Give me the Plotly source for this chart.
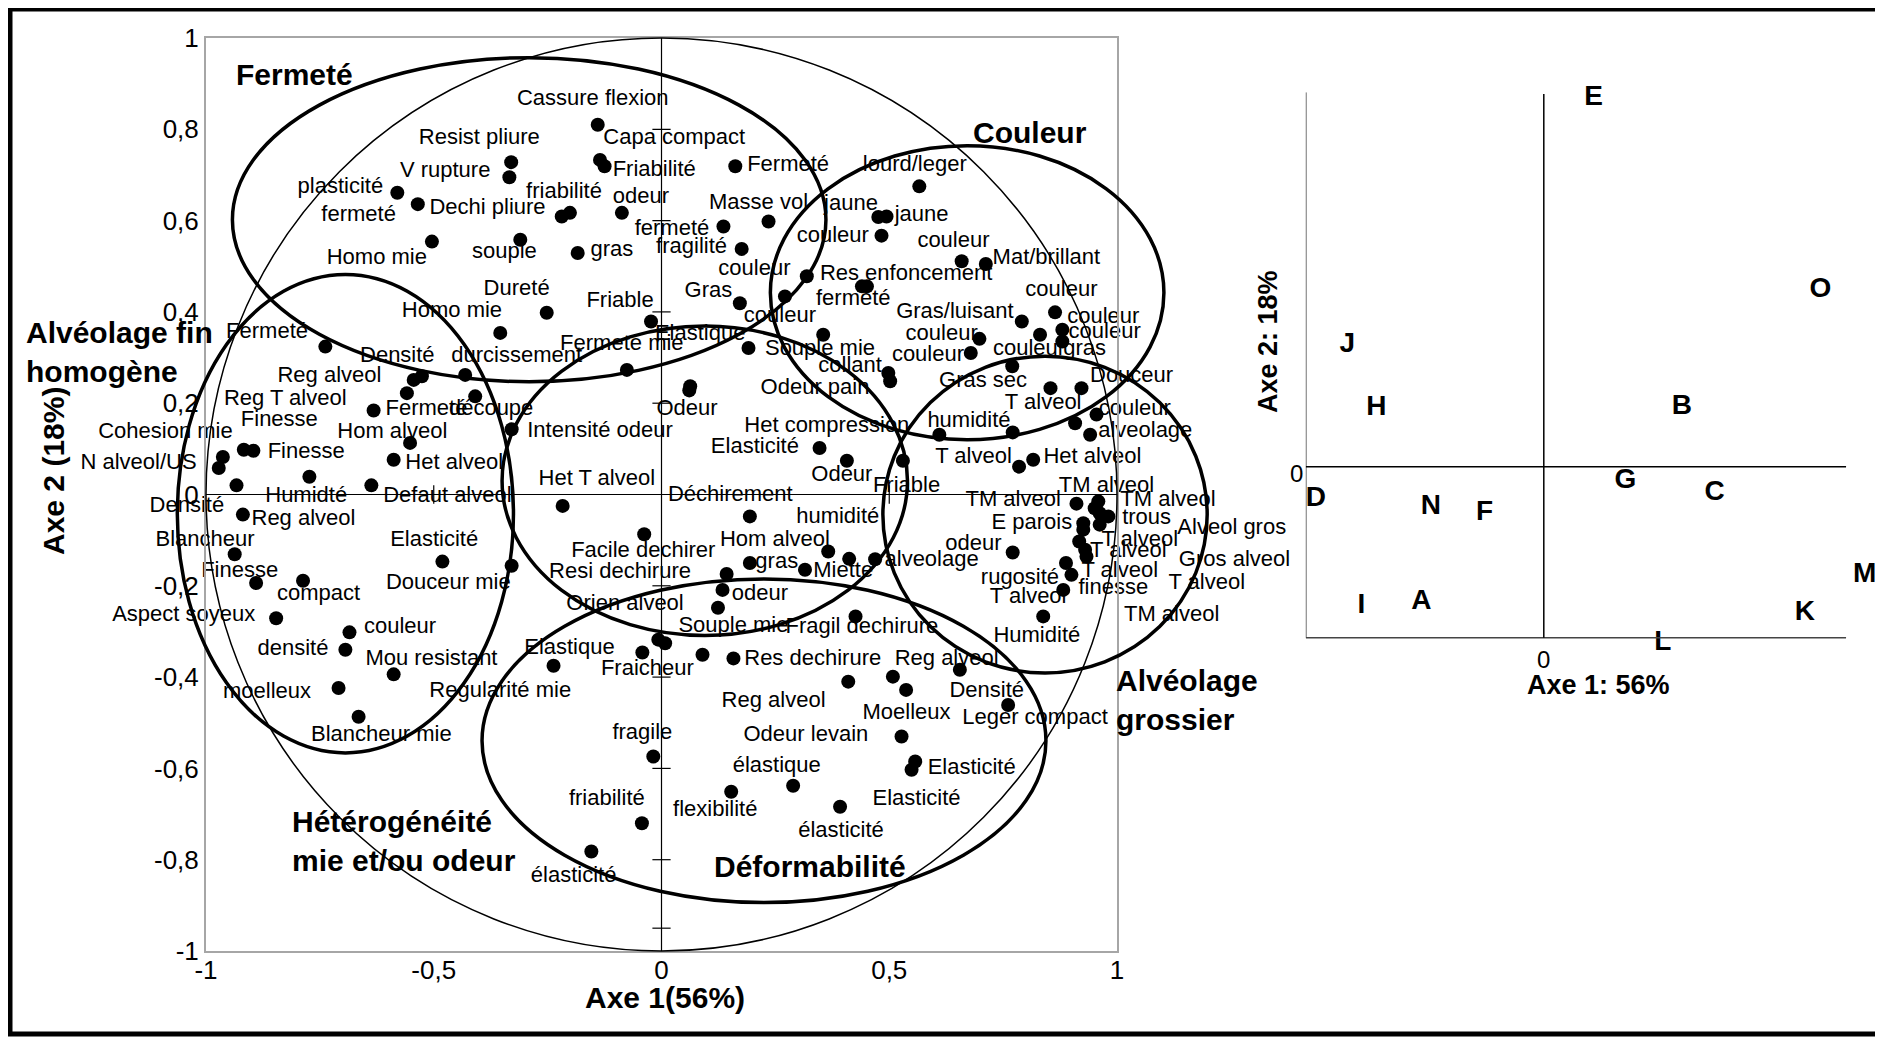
import plotly.graph_objects as go

# the page puts the figure 8 px in from the top-left corner, so every
# pixel position below is given in screen pixels and shifted by OFF
OFF = 8
W, H = 1883 - OFF, 1037 - OFF
FONT = "Liberation Sans, Arial, sans-serif"

# ---- loading plot: descriptor coordinates on axes 1 and 2 ----
dot_x = [-0.580, -0.535, -0.504, -0.330, -0.334, -0.140, -0.135, -0.125, -0.219, -0.201,
         -0.087, -0.310, -0.184, 0.162, 0.136, 0.235, 0.176, 0.566, 0.476, 0.494,
         0.483, 0.319, 0.271, 0.172, 0.440, 0.451, 0.659, 0.712, -0.252, -0.354,
         -0.023, 0.191, 0.355, -0.076, -0.431, -0.544, -0.526, -0.559, 0.063, 0.791,
         0.864, 0.831, 0.880, 0.880, 0.698, 0.679, 0.498, 0.502, 0.770, 0.854,
         0.922, -0.738, -0.632, -0.552, -0.588, -0.963, -0.972, -0.917, -0.896, -0.773,
         -0.933, -0.637, -0.919, -0.937, -0.890, -0.787, -0.846, -0.685, -0.694, -0.588,
         -0.709, -0.665, -0.409, -0.329, 0.061, 0.347, -0.217, -0.038, -0.481, -0.329,
         0.194, 0.143, 0.194, 0.315, 0.134, 0.124, 0.366, -0.007, 0.008, -0.042,
         0.090, 0.158, -0.237, 0.955, 0.908, 0.941, 0.610, 0.771, 0.407, 0.530,
         0.785, 0.816, 0.911, 0.959, 0.951, 0.962, 0.981, 0.926, 0.926, 0.962,
         0.917, 0.930, 0.933, 0.888, 0.900, 0.882, 0.771, 0.412, 0.469, 0.838,
         0.426, 0.655, 0.508, 0.537, 0.410, 0.761, -0.018, -0.043, -0.154, 0.153,
         0.289, 0.527, 0.557, 0.549, 0.392]
dot_y = [0.661, 0.636, 0.554, 0.728, 0.695, 0.810, 0.733, 0.719, 0.609, 0.617,
         0.617, 0.558, 0.529, 0.719, 0.587, 0.598, 0.538, 0.675, 0.608, 0.609,
         0.567, 0.478, 0.434, 0.419, 0.456, 0.456, 0.511, 0.505, 0.398, 0.354,
         0.379, 0.321, 0.350, 0.273, 0.262, 0.251, 0.259, 0.222, 0.237, 0.379,
         0.399, 0.350, 0.361, 0.335, 0.341, 0.310, 0.266, 0.248, 0.281, 0.233,
         0.233, 0.324, 0.184, 0.113, 0.076, 0.082, 0.058, 0.098, 0.096, 0.039,
         0.020, 0.020, -0.044, -0.131, -0.194, -0.189, -0.271, -0.302, -0.340, -0.394,
         -0.424, -0.487, 0.215, 0.143, 0.228, 0.102, -0.025, -0.087, -0.147, -0.156,
         -0.048, -0.174, -0.150, -0.165, -0.209, -0.248, -0.125, -0.318, -0.326, -0.346,
         -0.351, -0.359, -0.375, 0.175, 0.156, 0.131, 0.131, 0.136, 0.074, 0.074,
         0.061, 0.076, -0.020, -0.015, -0.030, -0.041, -0.048, -0.063, -0.077, -0.066,
         -0.103, -0.121, -0.136, -0.150, -0.176, -0.209, -0.127, -0.141, -0.142, -0.267,
         -0.267, -0.384, -0.399, -0.428, -0.410, -0.461, -0.574, -0.720, -0.782, -0.651,
         -0.638, -0.530, -0.585, -0.603, -0.684]

label_text = ["plasticité", "fermeté", "Homo mie", "Resist pliure", "V rupture", "Dechi pliure",
              "Cassure flexion", "Capa compact", "Friabilité", "friabilité", "odeur", "Fermeté",
              "Masse vol", "jaune", "jaune", "lourd/leger", "fermeté", "fragilité", "couleur",
              "souple", "gras", "couleur", "couleur", "Mat/brillant", "Res enfoncement", "Dureté",
              "Gras", "fermeté", "couleur", "Homo mie", "Friable", "couleur", "Gras/luisant",
              "couleur", "couleur", "couleur", "Elastique", "Fermete mie", "durcissement",
              "Souple mie", "couleur", "couleur", "gras", "collant", "Gras sec", "Douceur",
              "Odeur pain", "Fermeté", "Densité", "Reg alveol", "Reg T alveol", "Finesse",
              "Cohesion mie", "Hom alveol", "Fermeté", "découpe", "Finesse", "N alveol/US",
              "Het alveol", "Humidté", "Defaut alveol", "Densité", "Reg alveol", "Blancheur",
              "Elasticité", "Finesse", "compact", "Douceur mie", "Aspect soyeux", "couleur",
              "densité", "Mou resistant", "moelleux", "Regularité mie", "Blancheur mie",
              "Intensité odeur", "Odeur", "Het compression", "Elasticité", "Het T alveol",
              "Déchirement", "Facile dechirer", "Hom alveol", "humidité", "Resi dechirure",
              "gras", "Miette", "odeur", "Orien alveol", "Souple mie", "Fragil dechirure",
              "Elastique", "Fraicheur", "Res dechirure", "Reg alveol", "T alveol", "couleur",
              "alveolage", "humidité", "T alveol", "Het alveol", "Friable", "Odeur", "TM alveol",
              "TM alveol", "TM alveol", "E parois", "trous", "Alveol gros", "T alveol",
              "T alveol", "odeur", "alveolage", "rugosité", "T alveol", "Gros alveol", "finesse",
              "T alveol", "T alveol", "TM alveol", "Humidité", "Reg alveol", "Densité",
              "Moelleux", "Leger compact", "fragile", "Odeur levain", "élastique", "friabilité",
              "flexibilité", "élasticité", "Elasticité", "Elasticité", "élasticité"]
label_x = [-0.705, -0.665, -0.625, -0.400, -0.475, -0.382,
           -0.151, 0.028, -0.016, -0.214, -0.045, 0.278,
           0.213, 0.416, 0.571, 0.556, 0.023, 0.066, 0.376,
           -0.345, -0.109, 0.204, 0.641, 0.845, 0.537, -0.318,
           0.103, 0.421, 0.878, -0.460, -0.091, 0.260, 0.644,
           0.970, 0.973, 0.615, 0.085, -0.087, -0.318,
           0.348, 0.585, 0.807, 0.929, 0.414, 0.706, 1.032,
           0.337, -0.866, -0.580, -0.729, -0.826, -0.839,
           -1.089, -0.591, -0.516, -0.374, -0.780, -1.148,
           -0.455, -0.780, -0.470, -1.042, -0.786, -1.002,
           -0.499, -0.926, -0.753, -0.468, -1.049, -0.574,
           -0.809, -0.505, -0.866, -0.354, -0.615,
           -0.135, 0.056, 0.363, 0.205, -0.142,
           0.151, -0.040, 0.249, 0.387, -0.091,
           0.253, 0.399, 0.216, -0.080, 0.158, 0.440,
           -0.202, -0.031, 0.332, 0.246, 0.838, 1.039,
           1.062, 0.675, 0.685, 0.946, 0.538, 0.396, 0.977,
           0.772, 1.112, 0.813, 1.065, 1.252, 1.050,
           1.025, 0.685, 0.593, 0.787, 1.006, 1.258, 0.992,
           1.197, 0.805, 1.120, 0.824, 0.626, 0.714,
           0.538, 0.820, -0.042, 0.317, 0.253, -0.120,
           0.118, 0.394, 0.560, 0.681, -0.193]
label_y = [0.672, 0.611, 0.518, 0.780, 0.708, 0.626,
           0.865, 0.780, 0.709, 0.662, 0.650, 0.721,
           0.637, 0.635, 0.611, 0.721, 0.580, 0.540, 0.565,
           0.531, 0.535, 0.492, 0.554, 0.518, 0.481, 0.449,
           0.445, 0.427, 0.447, 0.400, 0.423, 0.390, 0.399,
           0.388, 0.354, 0.350, 0.350, 0.328, 0.302,
           0.317, 0.305, 0.317, 0.317, 0.281, 0.248, 0.259,
           0.233, 0.354, 0.302, 0.258, 0.209, 0.161,
           0.136, 0.136, 0.186, 0.186, 0.091, 0.067,
           0.067, -0.004, -0.004, -0.026, -0.055, -0.101,
           -0.101, -0.169, -0.218, -0.194, -0.265, -0.291,
           -0.339, -0.361, -0.434, -0.432, -0.527,
           0.138, 0.186, 0.150, 0.104, 0.032,
           -0.003, -0.125, -0.101, -0.051, -0.171,
           -0.150, -0.169, -0.220, -0.242, -0.289, -0.292,
           -0.337, -0.384, -0.362, -0.454, 0.200, 0.186,
           0.138, 0.160, 0.080, 0.080, 0.018, 0.041, 0.018,
           -0.014, -0.014, -0.063, -0.052, -0.074, -0.101,
           -0.125, -0.110, -0.145, -0.183, -0.169, -0.145, -0.205,
           -0.195, -0.226, -0.265, -0.311, -0.362, -0.432,
           -0.479, -0.490, -0.524, -0.527, -0.596, -0.668,
           -0.693, -0.739, -0.669, -0.600, -0.837]

# descriptor groups: ellipse extents (axis units) and their bold titles
group_x0 = [-0.942, 0.239, -1.063, 0.486, -0.350, -0.394]
group_x1 = [0.361, 1.103, -0.325, 1.198, 0.540, 0.844]
group_y0 = [0.247, 0.120, -0.566, -0.391, -0.309, -0.894]
group_y1 = [0.957, 0.764, 0.482, 0.303, 0.369, -0.185]
group_title = ["Fermeté", "Couleur", "Alvéolage fin<br>homogène", "Alvéolage<br>grossier",
               "Hétérogénéité<br>mie et/ou odeur", "Déformabilité"]
group_tx = [-0.806, 0.809, -1.399, 0.993, -0.815, 0.326]
group_ty = [0.920, 0.792, 0.312, -0.450, -0.760, -0.815]
group_anchor = ["center", "center", "left", "left", "left", "center"]

x_ticks = [-1, -0.5, 0, 0.5, 1]
x_ticktext = ["-1", "-0,5", "0", "0,5", "1"]
y_ticks = [-1, -0.8, -0.6, -0.4, -0.2, 0, 0.2, 0.4, 0.6, 0.8, 1]
y_ticktext = ["-1", "-0,8", "-0,6", "-0,4", "-0,2", "0", "0,2", "0,4", "0,6", "0,8", "1"]
axis_marks_y = [-0.95, -0.8, -0.6, -0.4, -0.2, 0.2, 0.4, 0.6, 0.8]
axis_marks_x = [-0.5, 0.5]

# ---- product map (score plot) ----
prod = ["E", "O", "J", "H", "B", "D", "N", "F", "G", "C", "M", "I", "A", "K", "L"]
prod_x = [0.209, 1.162, -0.826, -0.704, 0.580, -0.958, -0.475, -0.249, 0.343, 0.718,
          1.348, -0.766, -0.514, 1.097, 0.500]
prod_y = [2.154, 1.033, 0.712, 0.342, 0.351, -0.189, -0.238, -0.273, -0.084, -0.156,
          -0.633, -0.815, -0.789, -0.854, -1.033]


def px_x(p):
    return (p - OFF) / W


def px_y(p):
    return 1 - (p - OFF) / H


# main plot: frame -1..1 sits at x 206..1117 px, y 951..38 px; the data axes
# reach a bit further so that labels outside the frame still show
MX_C, MX_U = 661.5, 455.5
MY_C, MY_U = 494.5, 456.5
MX_RANGE = [-1.43, 1.35]
MY_RANGE = [-1.15, 1.06]
# product map: 0 at (1543.8, 466.7) px
PX_C, PX_U = 1543.8, 238.0
PY_C, PY_U = 466.7, 171.0
PX_RANGE = [-1, 1.40]
PY_RANGE = [-1.12, 2.19]

fig = go.Figure()

fig.add_trace(go.Scatter(
    x=dot_x, y=dot_y, mode="markers",
    marker=dict(size=14, color="black"),
    hoverinfo="skip", showlegend=False, cliponaxis=False,
))
fig.add_trace(go.Scatter(
    x=label_x, y=label_y, mode="text", text=label_text,
    textposition="middle center",
    textfont=dict(family=FONT, size=22, color="black"),
    hoverinfo="skip", showlegend=False, cliponaxis=False,
))
fig.add_trace(go.Scatter(
    x=prod_x, y=prod_y, mode="text", text=prod,
    textposition="middle center",
    textfont=dict(family=FONT, size=28, color="black", weight="bold"),
    xaxis="x2", yaxis="y2",
    hoverinfo="skip", showlegend=False, cliponaxis=False,
))
# empty trace so the framing axes get drawn
fig.add_trace(go.Scatter(x=[], y=[], xaxis="x3", yaxis="y3", showlegend=False))

shapes = []
shapes.append(dict(type="circle", xref="x", yref="y", x0=-1, x1=1, y0=-1, y1=1,
                   line=dict(color="black", width=1.5)))
for x0, x1, y0, y1 in zip(group_x0, group_x1, group_y0, group_y1):
    shapes.append(dict(type="circle", xref="x", yref="y", x0=x0, x1=x1, y0=y0, y1=y1,
                       line=dict(color="black", width=3.5)))
shapes.append(dict(type="line", xref="x", yref="y", x0=-1, x1=1, y0=0, y1=0,
                   line=dict(color="black", width=1.2)))
shapes.append(dict(type="line", xref="x", yref="y", x0=0, x1=0, y0=-1, y1=1,
                   line=dict(color="black", width=1.2)))
for t in axis_marks_y:
    shapes.append(dict(type="line", xref="x", yref="y", x0=-0.02, x1=0.02, y0=t, y1=t,
                       line=dict(color="black", width=1.2)))
for t in axis_marks_x:
    shapes.append(dict(type="line", xref="x", yref="y", x0=t, x1=t, y0=-0.02, y1=0.02,
                       line=dict(color="black", width=1.2)))
shapes += [
    dict(type="line", xref="x2", yref="y2", x0=-1, x1=-1, y0=-1, y1=2.19,
         line=dict(color="#444", width=1.5)),
    dict(type="line", xref="x2", yref="y2", x0=-1, x1=1.27, y0=-1, y1=-1,
         line=dict(color="#444", width=1.5)),
    dict(type="line", xref="x2", yref="y2", x0=0, x1=0, y0=-1, y1=2.18,
         line=dict(color="black", width=1.5)),
    dict(type="line", xref="x2", yref="y2", x0=-1, x1=1.27, y0=0, y1=0,
         line=dict(color="black", width=1.5)),
]
shapes.append(dict(type="rect", xref="paper", yref="paper",
                   x0=px_x(10), x1=px_x(1879), y0=px_y(1034), y1=px_y(9),
                   line=dict(color="black", width=5)))

annotations = []
for txt, x, y, anc in zip(group_title, group_tx, group_ty, group_anchor):
    annotations.append(dict(text=txt, x=x, y=y, xref="x", yref="y", showarrow=False,
                            xanchor=anc, yanchor="middle", align="left",
                            font=dict(family=FONT, size=30, color="black", weight="bold")))
annotations += [
    dict(text="0", x=0, y=-1, xref="x2", yref="y2", showarrow=False,
         xanchor="center", yanchor="top", yshift=-6,
         font=dict(family=FONT, size=24, color="black")),
    dict(text="0", x=-1, y=0, xref="x2", yref="y2", showarrow=False,
         xanchor="right", yanchor="middle", xshift=-1, yshift=-7,
         font=dict(family=FONT, size=24, color="black")),
    dict(text="Axe 1(56%)", x=px_x(665), y=px_y(997), xref="paper", yref="paper",
         xanchor="center", yanchor="middle", showarrow=False,
         font=dict(family=FONT, size=30, color="black", weight="bold")),
    dict(text="Axe 2 (18%)", x=px_x(53), y=px_y(471), xref="paper", yref="paper",
         xanchor="center", yanchor="middle", showarrow=False, textangle=-90,
         font=dict(family=FONT, size=30, color="black", weight="bold")),
    dict(text="Axe 1: 56%", x=px_x(1598), y=px_y(685), xref="paper", yref="paper",
         xanchor="center", yanchor="middle", showarrow=False,
         font=dict(family=FONT, size=27, color="black", weight="bold")),
    dict(text="Axe 2: 18%", x=px_x(1268), y=px_y(342), xref="paper", yref="paper",
         xanchor="center", yanchor="middle", showarrow=False, textangle=-90,
         font=dict(family=FONT, size=27, color="black", weight="bold")),
]

hidden = dict(visible=False, showgrid=False, zeroline=False, automargin=False)

fig.update_layout(
    width=W, height=H,
    margin=dict(l=0, r=0, t=0, b=0, pad=0),
    paper_bgcolor="white", plot_bgcolor="rgba(0,0,0,0)",
    font=dict(family=FONT, color="black"),
    shapes=shapes, annotations=annotations,
    xaxis=dict(domain=[px_x(MX_C + MX_RANGE[0] * MX_U), px_x(MX_C + MX_RANGE[1] * MX_U)],
               range=MX_RANGE, anchor="y", **hidden),
    yaxis=dict(domain=[px_y(MY_C - MY_RANGE[0] * MY_U), px_y(MY_C - MY_RANGE[1] * MY_U)],
               range=MY_RANGE, anchor="x", **hidden),
    xaxis2=dict(domain=[px_x(PX_C + PX_RANGE[0] * PX_U), px_x(PX_C + PX_RANGE[1] * PX_U)],
                range=PX_RANGE, anchor="y2", **hidden),
    yaxis2=dict(domain=[px_y(PY_C - PY_RANGE[0] * PY_U), px_y(PY_C - PY_RANGE[1] * PY_U)],
                range=PY_RANGE, anchor="x2", **hidden),
    xaxis3=dict(domain=[px_x(MX_C - MX_U), px_x(MX_C + MX_U)], range=[-1, 1], anchor="y3",
                tickvals=x_ticks, ticktext=x_ticktext, tickfont=dict(size=26),
                showgrid=False, zeroline=False, showline=True, mirror=True,
                linecolor="#a6a6a6", linewidth=2, ticks="", automargin=False,
                ticklabelstandoff=-5),
    yaxis3=dict(domain=[px_y(MY_C + MY_U), px_y(MY_C - MY_U)], range=[-1, 1], anchor="x3",
                tickvals=y_ticks, ticktext=y_ticktext, tickfont=dict(size=26),
                showgrid=False, zeroline=False, showline=True, mirror=True,
                linecolor="#a6a6a6", linewidth=2, ticks="", automargin=False),
)

fig.write_html("out.html")
